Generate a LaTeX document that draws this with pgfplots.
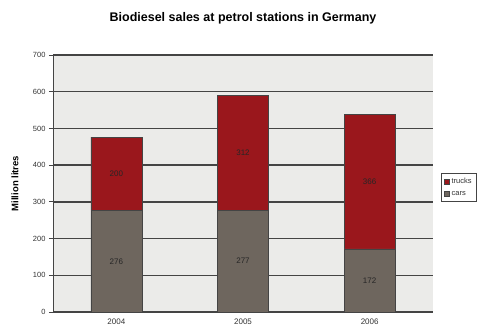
\documentclass[border=0pt]{standalone}
\usepackage{pgfplots}
\pgfplotsset{compat=1.18}
\usepackage{fontspec}
\setmainfont{Liberation Sans}
\definecolor{trucks}{HTML}{9A171C}
\definecolor{cars}{HTML}{6E665E}
\definecolor{bg}{HTML}{EBEBE9}
\definecolor{gridc}{HTML}{444444}
\begin{document}
\begin{tikzpicture}
\begin{axis}[
  at={(53pt,19pt)}, anchor=south west,
  scale only axis, width=380pt, height=257pt,
  xmin=-0.5, xmax=2.5, ymin=0, ymax=700,
  ybar stacked, bar width=51pt,
  axis background/.style={fill=bg},
  axis line style={gridc, line width=0.8pt},
  axis x line*=bottom, axis y line*=left,
  ytick={0,100,...,700},
  ymajorgrids, grid style={gridc, line width=1.3pt},
  y tick style={gridc, line width=0.8pt}, tick align=outside,
  major tick length=4pt,
  xtick={0,1,2}, xticklabels={2004,2005,2006},
  x tick style={draw=none},
  extra x ticks={0.5,1.5,2.5}, extra x tick labels={},
  extra x tick style={tick style={draw=gridc, line width=0.6pt}, major tick length=2pt, grid=none},
  tick label style={font=\fontsize{7.5}{8}\selectfont, text=black!80},
  xticklabel style={font=\fontsize{8}{9}\selectfont, yshift=1pt},
  /pgf/number format/assume math mode=true,
  ylabel={\textbf{Million litres}},
  ylabel style={font=\fontsize{9.5}{10}\selectfont, at={(axis description cs:-0.10,0.5)}, anchor=center},
  legend style={at={(1.021,0.541)}, anchor=north west, font=\fontsize{7.5}{8}\selectfont,
    draw=gridc, line width=0.7pt, inner xsep=3pt, inner ysep=3pt, row sep=2pt, fill=white, text=black!80},
  legend cell align=left, reverse legend,
  legend image code/.code={\draw[#1, draw=gridc, line width=0.3pt] (0pt,-2.5pt) rectangle (5pt,2.5pt);},
  nodes near coords, point meta=explicit symbolic,
  every node near coord/.append style={font=\fontsize{8}{9}\selectfont, text=black!85, anchor=center},
  clip=false,
]
\addplot[fill=cars, draw=gridc, line width=0.6pt] coordinates {(0,276)[276] (1,277)[277] (2,172)[172]};
\addplot[fill=trucks, draw=gridc, line width=0.6pt] coordinates {(0,200)[200] (1,312)[312] (2,366)[366]};
\legend{cars,trucks}
\end{axis}
\node[font=\bfseries\fontsize{12.5}{14}\selectfont] at (243pt,313pt) {Biodiesel sales at petrol stations in Germany};
\pgfresetboundingbox
\path[use as bounding box] (0pt,0pt) rectangle (486pt,331pt);
\end{tikzpicture}
\end{document}
